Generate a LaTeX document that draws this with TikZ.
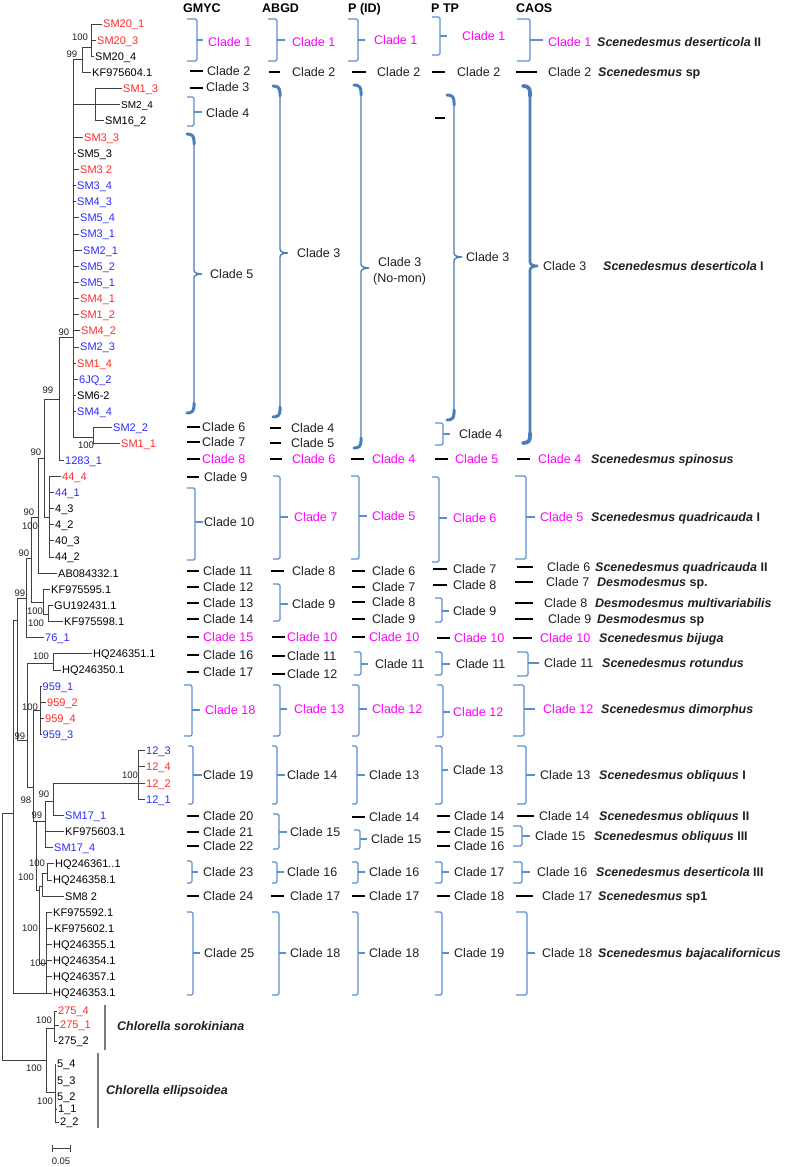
\documentclass[tikz,border=0pt]{standalone}
\usepackage{fontspec}
\setmainfont{Liberation Sans}
\definecolor{lred}{HTML}{FF2A2A}
\definecolor{lblue}{HTML}{2B2BFF}
\definecolor{mag}{HTML}{FF00FF}
\definecolor{brblue}{HTML}{5B8FD0}
\definecolor{brblue2}{HTML}{4A7EBB}
\definecolor{treegray}{HTML}{404040}
\definecolor{cgray}{HTML}{7A7A7A}
\definecolor{txt}{HTML}{202020}
\tikzset{
 br/.style={draw=treegray, line width=0.9pt},
 leaf/.style={anchor=west, inner xsep=1.5pt, inner ysep=0pt, font=\fontsize{11}{12}\selectfont, text height=7.9pt, text depth=0pt},
 bs/.style={inner sep=0pt, font=\fontsize{9.5}{10}\selectfont, text=txt},
 cl/.style={anchor=west, inner sep=0pt, font=\fontsize{12.5}{14}\selectfont, text height=9pt, text depth=0pt},
 hd/.style={anchor=west, inner sep=0pt, font=\bfseries\fontsize{12.5}{14}\selectfont, text height=9pt, text depth=0pt},
 spn/.style={anchor=west, inner sep=0pt, font=\bfseries\fontsize{12.5}{14}\selectfont, text height=9pt, text depth=0pt, text=txt},
 tbr/.style={draw=brblue, line width=1.1pt, rounded corners=1.5pt},
 brthin/.style={draw=brblue2, line width=1.4pt},
 brhook/.style={draw=brblue2, line width=3pt, line cap=round},
 dshs/.style={draw=black, line width=1.8pt},
 cbar/.style={draw=cgray, line width=1.4pt},
}
\newcommand{\lf}[6]{\node[leaf,text=#4] (#1) at (#2-1.5,#3) {#5}; \draw[br] (#1.west) -| (#6);}
\newcommand{\tbk}[6]{\draw[tbr] (#1,#3) -- (#2,#3) -- (#2,#4) -- (#1,#4); \draw[tbr,rounded corners=0pt] (#2,#5) -- (#6,#5);}
\newcommand{\dsh}[3]{\draw[dshs] (#1,#3) -- (#2,#3);}
\newcommand{\cld}[5]{\node[cl,text=#4] (#1) at (#2,#3) {#5};}
\newcommand{\spc}[5]{\node[spn] (#1) at (#2,#3) {\itshape #4\upshape #5};}
% brace: x, top, bottom, middle, vertical width, hook width
\newcommand{\thbrace}[6]{%
 \draw[brthin,line width=#5] (#1,#2+6) -- (#1,#4-4) .. controls (#1,#4-1) and (#1+4,#4) .. (#1+8,#4) .. controls (#1+4,#4) and (#1,#4+1) .. (#1,#4+4) -- (#1,#3-6);
 \draw[brhook,line width=#6] (#1-7,#2) .. controls (#1-2,#2) and (#1,#2+2) .. (#1,#2+7) -- (#1,#2+10);
 \draw[brhook,line width=#6] (#1-7,#3) .. controls (#1-2,#3) and (#1,#3-2) .. (#1,#3-7) -- (#1,#3-10);}
\begin{document}
\begin{tikzpicture}[x=1pt,y=-1pt]
\useasboundingbox (0,0) rectangle (787,1167);
% ---------------- tree internal nodes
\coordinate (R) at (2,936);
\coordinate (S) at (13,813);
\coordinate (C) at (46,1060);
\coordinate (n17) at (17,620);
\coordinate (bl) at (46,993);
\coordinate (n26) at (26,598);
\coordinate (n27) at (27,740);
\coordinate (n31) at (31,558);
\coordinate (n38) at (38,517);
\coordinate (nKF) at (43,602);
\coordinate (n99a) at (44,458);
\coordinate (n90) at (59,399);
\coordinate (n44) at (49,517);
\coordinate (A) at (73,337);
\coordinate (B) at (82,59);
\coordinate (nSM20) at (91,47);
\coordinate (n13) at (95,104.8);
\coordinate (nSM22) at (93,437);
\coordinate (nGU) at (48,614);
\coordinate (nHQ) at (53,663);
\coordinate (n33) at (33,787);
\coordinate (n959) at (40.5,710);
\coordinate (n36) at (36,821);
\coordinate (n45) at (45,821);
\coordinate (n53) at (53,801);
\coordinate (n12) at (138,783.1);
\coordinate (n39) at (39,890);
\coordinate (n42) at (42,886);
\coordinate (nHQ61) at (47,873);
\coordinate (nBaja) at (46,963);
\coordinate (nSoro) at (54,1028);
\coordinate (nEll) at (55,1092);
\draw[br] (S) -| (R); \draw[br] (C) -| (R);
\draw[br] (n17) -| (S); \draw[br] (bl) -| (S);
\draw[br] (n26) -| (n17); \draw[br] (n27) -| (n17);
\draw[br] (n31) -| (n26);
\draw[br] (n38) -| (n31); \draw[br] (nKF) -| (n31);
\draw[br] (n99a) -| (n38);
\draw[br] (n90) -| (n99a); \draw[br] (n44) -| (n99a);
\draw[br] (A) -| (n90);
\draw[br] (B) -| (A); \draw[br] (n13) -| (A); \draw[br] (nSM22) -| (A);
\draw[br] (nSM20) -| (B);
\draw[br] (nGU) -| (nKF);
\draw[br] (nHQ) -| (n27); \draw[br] (n33) -| (n27);
\draw[br] (n959) -| (n33); \draw[br] (n36) -| (n33);
\draw[br] (n45) -| (n36); \draw[br] (n39) -| (n36);
\draw[br] (n53) -| (n45);
\draw[br] (n12) -| (n53);
\draw[br] (n42) -| (n39); \draw[br] (nBaja) -| (n39);
\draw[br] (nHQ61) -| (n42);
\draw[br] (nSoro) -| (C); \draw[br] (nEll) -| (C);
% ---------------- leaves
\lf{l0}{103}{24}{lred}{SM20\_1}{nSM20}
\lf{l1}{97}{40.2}{lred}{SM20\_3}{nSM20}
\lf{l2}{95}{56.3}{black}{SM20\_4}{nSM20}
\lf{l3}{92}{72.5}{black}{KF975604.1}{B}
\lf{l4}{123}{88.6}{lred}{SM1\_3}{n13}
\node[leaf,font=\fontsize{10}{11}\selectfont] (l5) at (119.5,104.8) {SM2\_4}; \draw[br] (l5.west) -| (n13);
\lf{l6}{105}{120.9}{black}{SM16\_2}{n13}
\lf{l7}{84}{137.1}{lred}{SM3\_3}{A}
\lf{l8}{77}{153.2}{black}{SM5\_3}{A}
\lf{l9}{80}{169.4}{lred}{SM3 2}{A}
\lf{l10}{77}{185.5}{lblue}{SM3\_4}{A}
\lf{l11}{77}{201.7}{lblue}{SM4\_3}{A}
\lf{l12}{80}{217.8}{lblue}{SM5\_4}{A}
\lf{l13}{80}{234}{lblue}{SM3\_1}{A}
\lf{l14}{83}{250.1}{lblue}{SM2\_1}{A}
\lf{l15}{80}{266.3}{lblue}{SM5\_2}{A}
\lf{l16}{80}{282.4}{lblue}{SM5\_1}{A}
\lf{l17}{80}{298.6}{lred}{SM4\_1}{A}
\lf{l18}{80}{314.7}{lred}{SM1\_2}{A}
\lf{l19}{81}{330.9}{lred}{SM4\_2}{A}
\lf{l20}{80}{347}{lblue}{SM2\_3}{A}
\lf{l21}{77}{363.2}{lred}{SM1\_4}{A}
\lf{l22}{79}{379.3}{lblue}{6JQ\_2}{A}
\lf{l23}{77}{395.5}{black}{SM6-2}{A}
\lf{l24}{77}{411.6}{lblue}{SM4\_4}{A}
\lf{l25}{113}{427.8}{lblue}{SM2\_2}{nSM22}
\lf{l26}{121}{443.9}{lred}{SM1\_1}{nSM22}
\lf{l27}{65}{460.1}{lblue}{1283\_1}{n90}
\lf{l28}{62}{476.2}{lred}{44\_4}{n44}
\lf{l29}{55}{492.4}{lblue}{44\_1}{n44}
\lf{l30}{55}{508.5}{black}{4\_3}{n44}
\lf{l31}{55}{524.7}{black}{4\_2}{n44}
\lf{l32}{55}{540.8}{black}{40\_3}{n44}
\lf{l33}{55}{557}{black}{44\_2}{n44}
\lf{l34}{58}{573.1}{black}{AB084332.1}{n38}
\lf{l35}{51}{589.3}{black}{KF975595.1}{nKF}
\lf{l36}{54}{605.4}{black}{GU192431.1}{nGU}
\lf{l37}{64}{621.6}{black}{KF975598.1}{nGU}
\lf{l38}{45}{637.7}{lblue}{76\_1}{n26}
\lf{l39}{93}{653.9}{black}{HQ246351.1}{nHQ}
\lf{l40}{62}{670}{black}{HQ246350.1}{nHQ}
\lf{l41}{42.5}{686.2}{lblue}{959\_1}{n959}
\lf{l42}{47}{702.3}{lred}{959\_2}{n959}
\lf{l43}{45}{718.5}{lred}{959\_4}{n959}
\lf{l44}{42.5}{734.6}{lblue}{959\_3}{n959}
\lf{l45}{146}{750.8}{lblue}{12\_3}{n12}
\lf{l46}{146}{766.9}{lred}{12\_4}{n12}
\lf{l47}{146}{783.1}{lred}{12\_2}{n12}
\lf{l48}{146}{799.2}{lblue}{12\_1}{n12}
\lf{l49}{65}{815.4}{lblue}{SM17\_1}{n53}
\lf{l50}{65}{831.5}{black}{KF975603.1}{n45}
\lf{l51}{54}{847.7}{lblue}{SM17\_4}{n45}
\lf{l52}{55}{863.8}{black}{HQ246361..1}{nHQ61}
\lf{l53}{53}{880}{black}{HQ246358.1}{nHQ61}
\lf{l54}{65}{896.1}{black}{SM8 2}{n42}
\lf{l55}{53}{912.3}{black}{KF975592.1}{nBaja}
\lf{l56}{54}{928.4}{black}{KF975602.1}{nBaja}
\lf{l57}{53}{944.6}{black}{HQ246355.1}{nBaja}
\lf{l58}{53}{960.7}{black}{HQ246354.1}{nBaja}
\lf{l59}{53}{976.9}{black}{HQ246357.1}{nBaja}
\lf{l60}{53}{993}{black}{HQ246353.1}{nBaja}
\lf{l61}{58}{1011}{lred}{275\_4}{nSoro}
\lf{l62}{60}{1025}{lred}{275\_1}{nSoro}
\lf{l63}{58}{1041}{black}{275\_2}{nSoro}
\lf{l64}{57}{1064}{black}{5\_4}{nEll}
\lf{l65}{57}{1081}{black}{5\_3}{nEll}
\lf{l66}{57}{1097}{black}{5\_2}{nEll}
\lf{l67}{58}{1109}{black}{1\_1}{nEll}
\lf{l68}{60}{1122}{black}{2\_2}{nEll}
% ---------------- bootstrap values
\node[bs] (b1) at (80,37) {100};
\node[bs] (b2) at (72,54) {99};
\node[bs] (b3) at (64,332) {90};
\node[bs] (b4) at (48,390) {99};
\node[bs] (b5) at (86,445) {100};
\node[bs] (b6) at (36,452) {90};
\node[bs] (b7) at (29,512) {90};
\node[bs] (b8) at (30,526) {100};
\node[bs] (b9) at (24,553) {90};
\node[bs] (b10) at (20,593) {99};
\node[bs] (b11) at (35,611) {100};
\node[bs] (b12) at (36,623) {100};
\node[bs] (b13) at (41,656) {100};
\node[bs] (b14) at (30,707) {100};
\node[bs] (b15) at (20,736) {99};
\node[bs] (b16) at (130,775) {100};
\node[bs] (b17) at (44,794) {90};
\node[bs] (b18) at (26,800) {98};
\node[bs] (b19) at (37,815) {99};
\node[bs] (b20) at (37,863) {100};
\node[bs] (b21) at (26,877) {100};
\node[bs] (b22) at (30,928) {100};
\node[bs] (b23) at (38,963) {100};
\node[bs] (b24) at (44,1020) {100};
\node[bs] (b25) at (34,1068) {100};
\node[bs] (b26) at (45,1101) {100};
% ---------------- Chlorella
\draw[cbar] (105,1005) -- (105,1050);
\draw[cbar] (98,1053) -- (98,1128);
\node[spn] (chs) at (117,1026) {\itshape Chlorella sorokiniana};
\node[spn] (che) at (106,1090) {\itshape Chlorella ellipsoidea};
% scale bar
\coordinate (sb1) at (52,1148); \coordinate (sb2) at (70,1148);
\draw[br] (sb1) -- (sb2); \draw[br] (52,1144.5) -- (52,1151.5); \draw[br] (70,1144.5) -- (70,1151.5);
\node[bs] (sbl) at (61,1161) {0.05};
% ---------------- headers
\node[hd] (hg) at (183,8) {GMYC};
\node[hd] (ha) at (262,8) {ABGD};
\node[hd] (hp) at (348,8) {P (ID)};
\node[hd] (ht) at (431,8) {P TP};
\node[hd] (hc) at (516,8) {CAOS};
% ---------------- GMYC
\tbk{187}{197}{19}{61}{40}{203} \cld{g1}{208}{42}{mag}{Clade 1}
\dsh{190}{203}{71} \cld{g2}{207}{71}{txt}{Clade 2}
\dsh{190}{203}{88} \cld{g3}{206}{87}{txt}{Clade 3}
\tbk{187}{194}{97}{126}{112}{202} \cld{g4}{206}{113}{txt}{Clade 4}
\thbrace{194}{134}{413}{274}{1.4pt}{3pt} \cld{g5}{210}{274}{txt}{Clade 5}
\dsh{187}{200}{427} \cld{g6}{202}{427}{txt}{Clade 6}
\dsh{187}{200}{442} \cld{g7}{202}{442}{txt}{Clade 7}
\dsh{187}{200}{459} \cld{g8}{202}{459}{mag}{Clade 8}
\dsh{187}{199}{477} \cld{g9}{204}{477}{txt}{Clade 9}
\tbk{187}{195}{488}{560}{522}{203} \cld{g10}{204}{522}{txt}{Clade 10}
\dsh{187}{199}{571} \cld{g11}{203}{571}{txt}{Clade 11}
\dsh{187}{199}{587} \cld{g12}{203}{587}{txt}{Clade 12}
\dsh{187}{199}{603} \cld{g13}{203}{603}{txt}{Clade 13}
\dsh{187}{199}{619} \cld{g14}{203}{619}{txt}{Clade 14}
\dsh{187}{199}{637} \cld{g15}{203}{637}{mag}{Clade 15}
\dsh{187}{199}{655} \cld{g16}{203}{655}{txt}{Clade 16}
\dsh{187}{199}{672} \cld{g17}{203}{672}{txt}{Clade 17}
\tbk{184}{192}{685}{736}{710}{200} \cld{g18}{205}{710}{mag}{Clade 18}
\tbk{188}{193}{746}{804}{775}{202} \cld{g19}{203}{775}{txt}{Clade 19}
\dsh{187}{199}{816} \cld{g20}{203}{816}{txt}{Clade 20}
\dsh{187}{199}{832} \cld{g21}{203}{832}{txt}{Clade 21}
\dsh{187}{199}{846} \cld{g22}{203}{846}{txt}{Clade 22}
\tbk{187}{192}{861}{883}{872}{198} \cld{g23}{203}{872}{txt}{Clade 23}
\dsh{187}{199}{896} \cld{g24}{203}{896}{txt}{Clade 24}
\tbk{187}{193}{912}{995}{953}{200} \cld{g25}{204}{953}{txt}{Clade 25}
% ---------------- ABGD
\tbk{268}{277}{19}{61}{40}{285} \cld{a1}{292}{42}{mag}{Clade 1}
\dsh{269}{280}{72} \cld{a2}{292}{72}{txt}{Clade 2}
\thbrace{280}{86}{417}{253}{1.4pt}{3pt} \cld{a3}{297}{253}{txt}{Clade 3}
\dsh{270}{281}{428} \cld{a4}{291}{428}{txt}{Clade 4}
\dsh{270}{281}{443} \cld{a5}{291}{443}{txt}{Clade 5}
\dsh{270}{282}{459} \cld{a6}{292}{459}{mag}{Clade 6}
\tbk{273}{280}{476}{559}{517}{288} \cld{a7}{294}{517}{mag}{Clade 7}
\dsh{271}{284}{571} \cld{a8}{292}{571}{txt}{Clade 8}
\tbk{273}{280}{584}{621}{604}{288} \cld{a9}{292}{604}{txt}{Clade 9}
\dsh{272}{285}{637} \cld{a10}{287}{637}{mag}{Clade 10}
\dsh{272}{285}{656} \cld{a11}{287}{656}{txt}{Clade 11}
\dsh{272}{285}{674} \cld{a12}{287}{674}{txt}{Clade 12}
\tbk{273}{280}{685}{736}{709}{287} \cld{a13}{294}{709}{mag}{Clade 13}
\tbk{272}{277}{746}{804}{775}{285} \cld{a14}{287}{775}{txt}{Clade 14}
\tbk{273}{279}{814}{849}{832}{287} \cld{a15}{290}{832}{txt}{Clade 15}
\tbk{272}{277}{862}{883}{872}{284} \cld{a16}{287}{872}{txt}{Clade 16}
\dsh{271}{284}{896} \cld{a17}{290}{896}{txt}{Clade 17}
\tbk{272}{279}{912}{995}{953}{286} \cld{a18}{290}{953}{txt}{Clade 18}
% ---------------- P (ID)
\tbk{348}{358}{19}{61}{40}{365} \cld{p1}{374}{40}{mag}{Clade 1}
\dsh{352}{366}{72} \cld{p2}{377}{72}{txt}{Clade 2}
\thbrace{361}{85}{448}{268}{1.4pt}{3pt} \cld{p3}{378}{262}{txt}{Clade 3}
\node[cl,text=txt] (p3b) at (373,278) {(No-mon)};
\dsh{351}{364}{459} \cld{p4}{372}{459}{mag}{Clade 4}
\tbk{351}{359}{476}{559}{516}{367} \cld{p5}{372}{516}{mag}{Clade 5}
\dsh{352}{365}{571} \cld{p6}{372}{571}{txt}{Clade 6}
\dsh{352}{365}{587} \cld{p7}{372}{587}{txt}{Clade 7}
\dsh{352}{365}{602} \cld{p8}{372}{602}{txt}{Clade 8}
\dsh{352}{365}{619} \cld{p9}{372}{619}{txt}{Clade 9}
\dsh{352}{365}{637} \cld{p10}{369}{637}{mag}{Clade 10}
\tbk{354}{361}{652}{675}{664}{368} \cld{p11}{375}{664}{txt}{Clade 11}
\tbk{352}{359}{685}{736}{709}{367} \cld{p12}{372}{709}{mag}{Clade 12}
\tbk{352}{357}{746}{804}{775}{365} \cld{p13}{369}{775}{txt}{Clade 13}
\dsh{352}{365}{817} \cld{p14}{369}{817}{txt}{Clade 14}
\tbk{354}{360}{830}{849}{839}{367} \cld{p15}{371}{839}{txt}{Clade 15}
\tbk{352}{358}{862}{883}{872}{365} \cld{p16}{369}{872}{txt}{Clade 16}
\dsh{352}{365}{896} \cld{p17}{369}{896}{txt}{Clade 17}
\tbk{352}{358}{912}{995}{953}{365} \cld{p18}{369}{953}{txt}{Clade 18}
% ---------------- P TP
\tbk{432}{440}{17}{55}{36}{447} \cld{t1}{462}{36}{mag}{Clade 1}
\dsh{432}{445}{72} \cld{t2}{457}{72}{txt}{Clade 2}
\dsh{435}{445}{118}
\thbrace{454}{95}{420}{257}{1.4pt}{3pt} \cld{t3}{466}{257}{txt}{Clade 3}
\tbk{435}{443}{423}{445}{434}{450} \cld{t4}{459}{434}{txt}{Clade 4}
\dsh{435}{448}{459} \cld{t5}{455}{459}{mag}{Clade 5}
\tbk{432}{439}{477}{562}{518}{447} \cld{t6}{453}{518}{mag}{Clade 6}
\dsh{433}{447}{569} \cld{t7}{453}{569}{txt}{Clade 7}
\dsh{433}{447}{585} \cld{t8}{453}{585}{txt}{Clade 8}
\tbk{435}{442}{598}{622}{611}{449} \cld{t9}{453}{611}{txt}{Clade 9}
\dsh{437}{450}{638} \cld{t10}{454}{638}{mag}{Clade 10}
\tbk{435}{442}{652}{675}{664}{450} \cld{t11}{456}{664}{txt}{Clade 11}
\tbk{437}{443}{685}{737}{712}{450} \cld{t12}{453}{712}{mag}{Clade 12}
\tbk{435}{442}{746}{804}{770}{448} \cld{t13}{453}{770}{txt}{Clade 13}
\dsh{437}{450}{816} \cld{t14}{454}{816}{txt}{Clade 14}
\dsh{437}{450}{832} \cld{t15}{454}{832}{txt}{Clade 15}
\dsh{437}{450}{846} \cld{t16}{454}{846}{txt}{Clade 16}
\tbk{435}{442}{862}{883}{872}{449} \cld{t17}{454}{872}{txt}{Clade 17}
\dsh{437}{450}{896} \cld{t18}{454}{896}{txt}{Clade 18}
\tbk{435}{442}{912}{995}{953}{449} \cld{t19}{454}{953}{txt}{Clade 19}
% ---------------- CAOS
\tbk{517}{530}{19}{61}{40}{543} \cld{c1}{548}{42}{mag}{Clade 1} \spc{s1}{597}{42}{Scenedesmus deserticola}{ II}
\dsh{516}{537}{72} \cld{c2}{548}{72}{txt}{Clade 2} \spc{s2}{598}{72}{Scenedesmus}{ sp}
\thbrace{530}{86}{443}{266}{2.6pt}{3.8pt} \cld{c3}{543}{266}{txt}{Clade 3} \spc{s3}{603}{266}{Scenedesmus deserticola}{ I}
\dsh{517}{530}{459} \cld{c4}{538}{459}{mag}{Clade 4} \spc{s4}{591}{459}{Scenedesmus spinosus}{}
\tbk{515}{526}{476}{559}{517}{535} \cld{c5}{540}{517}{mag}{Clade 5} \spc{s5}{591}{517}{Scenedesmus quadricauda}{ I}
\dsh{517}{533}{567} \cld{c6}{547}{567}{txt}{Clade 6} \spc{s6}{595}{567}{Scenedesmus quadricauda}{ II}
\dsh{515}{533}{582} \cld{c7}{546}{582}{txt}{Clade 7} \spc{s7}{597}{582}{Desmodesmus}{ sp.}
\dsh{515}{533}{603} \cld{c8}{544}{603}{txt}{Clade 8} \spc{s8}{595}{603}{Desmodesmus multivariabilis}{}
\dsh{515}{533}{619} \cld{c9}{548}{619}{txt}{Clade 9} \spc{s9}{597}{619}{Desmodesmus}{ sp}
\dsh{513}{532}{638} \cld{c10}{540}{638}{mag}{Clade 10} \spc{s10}{599}{638}{Scenedesmus bijuga}{}
\tbk{517}{528}{652}{676}{663}{539} \cld{c11}{544}{663}{txt}{Clade 11} \spc{s11}{602}{663}{Scenedesmus rotundus}{}
\tbk{513}{524}{685}{736}{709}{535} \cld{c12}{543}{709}{mag}{Clade 12} \spc{s12}{601}{709}{Scenedesmus dimorphus}{}
\tbk{517}{526}{746}{804}{775}{535} \cld{c13}{540}{775}{txt}{Clade 13} \spc{s13}{599}{775}{Scenedesmus obliquus}{ I}
\dsh{517}{534}{816} \cld{c14}{539}{816}{txt}{Clade 14} \spc{s14}{599}{816}{Scenedesmus obliquus}{ II}
\tbk{513}{522}{826}{846}{836}{530} \cld{c15}{535}{836}{txt}{Clade 15} \spc{s15}{594}{836}{Scenedesmus obliquus}{ III}
\tbk{513}{522}{862}{883}{872}{530} \cld{c16}{537}{872}{txt}{Clade 16} \spc{s16}{596}{872}{Scenedesmus deserticola}{ III}
\dsh{516}{533}{896} \cld{c17}{542}{896}{txt}{Clade 17} \spc{s17}{598}{896}{Scenedesmus}{ sp1}
\tbk{516}{527}{912}{995}{953}{535} \cld{c18}{542}{953}{txt}{Clade 18} \spc{s18}{598}{953}{Scenedesmus bajacalifornicus}{}
\end{tikzpicture}
\end{document}
